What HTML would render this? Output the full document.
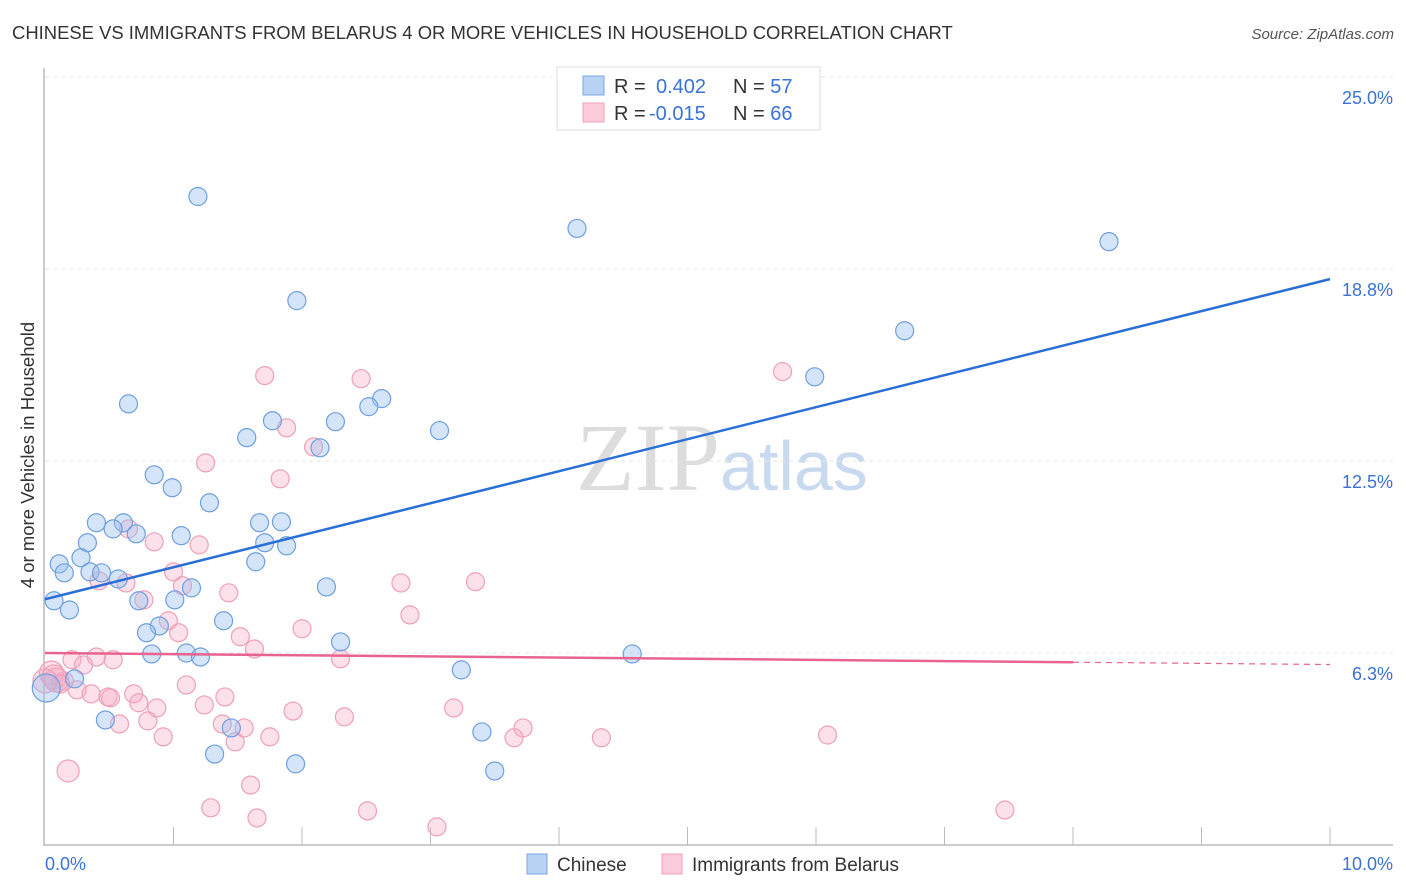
<!DOCTYPE html>
<html><head><meta charset="utf-8"><style>
body{margin:0;background:#fff;font-family:"Liberation Sans",sans-serif}
svg{display:block}
</style></head><body>
<svg id="c" width="1406" height="892">
<text x="12" y="39" font-size="18.45" fill="#333">CHINESE VS IMMIGRANTS FROM BELARUS 4 OR MORE VEHICLES IN HOUSEHOLD CORRELATION CHART</text>
<text x="1394" y="39" font-size="15" fill="#555" text-anchor="end" font-style="italic">Source: ZipAtlas.com</text>
<text transform="translate(34,455) rotate(-90)" font-size="18.5" fill="#333" text-anchor="middle">4 or more Vehicles in Household</text>
<text x="720" y="490" font-size="96" fill="#ddd" text-anchor="end" font-family="Liberation Serif">ZIP</text>
<text x="720" y="490" font-size="70" fill="#c9daf0">atlas</text>
<g id="grid"></g><g id="marks"></g><g id="lines"></g>
<g>
<rect x="557" y="67" width="263" height="63" fill="#fff" stroke="#ddd"/>
<rect x="583" y="76" width="21" height="19" fill="#b8d2f4" stroke="#7aa6e0"/>
<rect x="583" y="103" width="21" height="19" fill="#fcccda" stroke="#eea0b8"/>
<text x="614" y="93" font-size="20" fill="#333">R = <tspan fill="#3a72d6" x="656">0.402</tspan><tspan fill="#333" x="733">N = </tspan><tspan fill="#3a72d6">57</tspan></text>
<text x="614" y="120" font-size="20" fill="#333">R = <tspan fill="#3a72d6" x="649">-0.015</tspan><tspan fill="#333" x="733">N = </tspan><tspan fill="#3a72d6">66</tspan></text>
</g>
<g>
<rect x="527" y="854" width="20" height="20" fill="#b8d2f4" stroke="#7aa6e0"/>
<text x="557" y="871" font-size="19" fill="#333">Chinese</text>
<rect x="662" y="854" width="20" height="20" fill="#fcccda" stroke="#eea0b8"/>
<text x="692" y="871" font-size="19" fill="#333">Immigrants from Belarus</text>
</g>
</svg>
<script>
const yTicks=[6.25,12.5,18.75,25];
const yTickLabels=["6.3%","12.5%","18.8%","25.0%"];
const xTickLabels=["0.0%","10.0%"];
const blueX=[1.19,4.14,8.28,1.96,6.69,5.99,0.65,2.62,2.52,1.77,2.26,1.57,3.07,2.14,0.85,0.99,1.28,0.40,0.61,0.53,0.71,1.67,1.84,1.06,0.33,1.71,1.88,1.64,0.11,0.15,0.28,0.35,0.44,0.57,2.19,1.14,0.07,0.73,1.01,0.19,1.39,0.89,0.79,2.30,0.83,1.10,1.21,4.57,3.24,0.23,0.01,0.47,1.45,3.40,1.32,1.95,3.50];
const blueY=[21.11,20.07,19.64,17.72,16.74,15.24,14.36,14.53,14.27,13.81,13.78,13.26,13.49,12.93,12.05,11.63,11.14,10.49,10.49,10.29,10.13,10.49,10.52,10.07,9.84,9.84,9.74,9.22,9.15,8.86,9.35,8.89,8.86,8.66,8.40,8.37,7.95,7.95,7.98,7.65,7.30,7.13,6.91,6.61,6.22,6.25,6.12,6.22,5.70,5.41,5.11,4.07,3.81,3.68,2.96,2.64,2.41];
const pinkX=[1.71,2.46,5.74,1.88,2.09,1.25,1.83,0.65,0.85,1.20,1.00,0.42,0.63,2.77,3.35,0.77,1.43,1.07,2.84,0.96,1.04,2.00,1.52,1.63,2.30,0.40,0.21,0.53,0.30,0.05,0.15,0.09,1.10,0.25,0.36,0.49,0.69,0.51,0.73,0.87,1.40,1.24,1.93,2.33,3.18,0.58,0.80,1.55,1.75,1.38,0.92,1.48,3.72,3.65,4.33,6.09,0.18,1.60,1.29,2.51,1.65,3.05,7.47,0.07,0.12,0.00];
const pinkY=[15.28,15.18,15.41,13.58,12.96,12.44,11.92,10.29,9.87,9.77,8.89,8.60,8.53,8.53,8.57,7.98,8.21,8.44,7.49,7.30,6.91,7.04,6.78,6.38,6.06,6.12,6.03,6.03,5.86,5.60,5.34,5.37,5.21,5.05,4.92,4.82,4.92,4.79,4.63,4.46,4.82,4.56,4.36,4.17,4.46,3.94,4.04,3.81,3.52,3.94,3.52,3.36,3.81,3.49,3.49,3.58,2.41,1.95,1.21,1.11,0.88,0.59,1.14,5.47,5.24,5.34];
const blueTrend=[8.0,18.42];
const pinkTrend=[6.25,5.95];
const NS='http://www.w3.org/2000/svg';
const X=v=>45+v*128.5, Y=v=>845-v*30.72;
function mk(t,a,p){const e=document.createElementNS(NS,t);for(const k in a)e.setAttribute(k,a[k]);p.appendChild(e);return e;}
const grid=document.getElementById('grid');
mk('line',{x1:45,y1:77,x2:1393,y2:77,stroke:'#ddd','stroke-dasharray':'4,4'},grid);
yTicks.forEach((t,i)=>{
 const l=mk('line',{x1:45,y1:Y(t),x2:1393,y2:Y(t),stroke:'#e4e4e4','stroke-dasharray':'4,4'},grid);
 
 
 const tx=mk('text',{x:1393,y:Y(t)+27,'font-size':18,fill:'#3a72d6','text-anchor':'end'},grid);
 tx.textContent=yTickLabels[i];
 
 
});
mk('line',{x1:44,y1:68,x2:44,y2:846,stroke:'#bbb','stroke-width':1.5},grid);
mk('line',{x1:44,y1:845,x2:1393,y2:845,stroke:'#bbb','stroke-width':1.5},grid);
for(let i=1;i<=10;i++){mk('line',{x1:45+i*128.5,y1:827,x2:45+i*128.5,y2:845,stroke:'#bbb'},grid);}
xTickLabels.forEach((s,i)=>{const t=mk('text',{x:i?1393:45,y:870,'font-size':18,fill:'#3a72d6','text-anchor':i?'end':'start'},grid);t.textContent=s;
 
 });
const marks=document.getElementById('marks');
pinkX.forEach((x,i)=>{const r=(x<0.1&&pinkY[i]>5.3&&pinkY[i]<5.7)?12:(i==56?11:9);
 const c=mk('circle',{cx:X(x),cy:Y(pinkY[i]),r:r,fill:'rgba(248,170,195,0.35)',stroke:'#eea0b8','stroke-width':1.2},marks);
 
 });
blueX.forEach((x,i)=>{const r=i==50?14:9;
 const c=mk('circle',{cx:X(x),cy:Y(blueY[i]),r:r,fill:'rgba(150,190,240,0.4)',stroke:'#6e9fe0','stroke-width':1.2},marks);
 
 });
const lines=document.getElementById('lines');
const bl=mk('line',{x1:X(0),y1:Y(blueTrend[0]),x2:X(10),y2:Y(blueTrend[1]),stroke:'#2a6fd6','stroke-width':2.5},lines);


const pl=mk('line',{x1:X(0),y1:Y(pinkTrend[0]),x2:X(8),y2:Y(pinkTrend[1]),stroke:'#e8648f','stroke-width':2.5},lines);


const s=(pinkTrend[1]-pinkTrend[0])/8;
const pd=mk('line',{x1:X(8),y1:Y(pinkTrend[1]),x2:X(10),y2:Y(pinkTrend[0]+s*10),stroke:'#e8648f','stroke-width':1.2,'stroke-dasharray':'6,5'},lines);


</script>
</body></html>
